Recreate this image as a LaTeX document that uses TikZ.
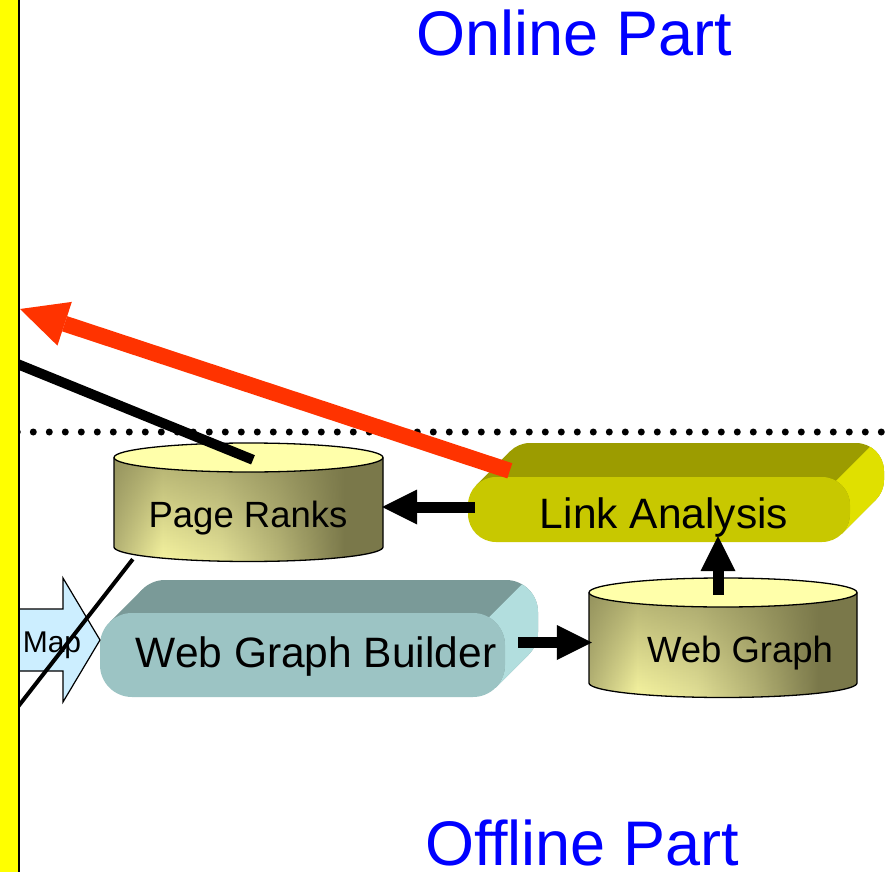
\documentclass[tikz,border=0pt]{standalone}
\usepackage{fontspec}
\setmainfont{Liberation Sans}
\usetikzlibrary{arrows.meta,calc,fadings}

\definecolor{barYellow}{HTML}{FFFF00}
\definecolor{partBlue}{HTML}{0000FF}
\definecolor{redArrow}{HTML}{FF3300}
\definecolor{mapBlue}{HTML}{CCEEFF}
\definecolor{laFront}{HTML}{C8C800}
\definecolor{laTop}{HTML}{9C9C00}
\definecolor{laSide}{HTML}{E0E000}
\definecolor{wgbFront}{HTML}{9CC4C4}
\definecolor{wgbTop}{HTML}{7A9A98}
\definecolor{wgbSide}{HTML}{B2DEDE}
\definecolor{cylTop}{HTML}{FFFFAA}
\definecolor{cylLight}{HTML}{F6F4A0}
\definecolor{cylSoft}{HTML}{E2E096}
\definecolor{cylMid}{HTML}{B6B476}
\definecolor{cylDark}{HTML}{7A784A}

% side of a database cylinder: light towards lower left, dark to the right
\pgfdeclarehorizontalshading{cylsideshade}{100bp}{%
  color(0bp)=(cylMid); color(25bp)=(cylMid); color(34bp)=(cylLight);
  color(45bp)=(cylSoft); color(56bp)=(cylMid); color(68bp)=(cylDark);
  color(75bp)=(cylDark); color(100bp)=(cylDark)}
\tikzfading[name=cyltop, top color=transparent!45, middle color=transparent!100,
  bottom color=transparent!100]

\tikzset{
  frame/.style={rectangle, inner sep=0pt, draw=none},
  lbl/.style={inner sep=0pt, anchor=base, text=black},
  big/.style={font=\fontsize{42.5}{50}\selectfont},
  small/.style={font=\fontsize{36.5}{44}\selectfont},
  part/.style={inner sep=0pt, anchor=base, text=partBlue, font=\fontsize{63}{70}\selectfont},
  cyledge/.style={draw=black, line width=1.3pt},
  blkarrow/.style={draw=black, line width=11pt,
    -{Triangle[length=35pt, width=35pt, line width=0pt]}},
  redarrow/.style={draw=redArrow, line width=16pt,
    -{Triangle[length=47pt, width=46pt, line width=0pt]}},
}

% database cylinder: left x, right x, top centre y, bottom centre y, y radius
\newcommand{\dbcyl}[5]{%
  \pgfmathsetmacro\cylcx{(#1+#2)/2}%
  \pgfmathsetmacro\cylrx{(#2-#1)/2}%
  \shade[shading=cylsideshade] (#1,#3) -- (#1,#4)
    -- plot[domain=180:360, samples=40, variable=\t] ({\cylcx+\cylrx*cos(\t)},{#4-#5*sin(\t)})
    -- (#2,#3) -- cycle;
  \fill[cylDark, path fading=cyltop] (#1,#3) -- (#1,#4)
    -- plot[domain=180:360, samples=40, variable=\t] ({\cylcx+\cylrx*cos(\t)},{#4-#5*sin(\t)})
    -- (#2,#3) -- cycle;
  \draw[cyledge] (#1,#3) -- (#1,#4)
    -- plot[domain=180:360, samples=40, variable=\t] ({\cylcx+\cylrx*cos(\t)},{#4-#5*sin(\t)})
    -- (#2,#3);
  \filldraw[cyledge, fill=cylTop] (\cylcx,#3) ellipse [x radius=\cylrx pt, y radius=#5pt];
}

% extruded rounded box: x1 y1 x2 y2 radius depth front top side
\newcommand{\extbox}[9]{%
  \pgfmathsetmacro\ebk{0.29289*#5}%
  \fill[#8, rounded corners=#5pt] ({#1+#6},{#2-#6}) rectangle ({#3+#6},{#4-#6});
  \fill[#8] ({#1+\ebk},{#2+\ebk}) -- ({#1+\ebk+#6},{#2+\ebk-#6})
    -- ({#3-\ebk+#6},{#4-\ebk-#6}) -- ({#3-\ebk},{#4-\ebk}) -- cycle;
  \fill[#9] plot[domain=-45:0, variable=\t, samples=12] ({#3-#5+#5*cos(\t)},{#4-#5-#5*sin(\t)})
    -- plot[domain=0:60, variable=\t, samples=12] ({#3-#5+#5*cos(\t)},{#2+#5-#5*sin(\t)})
    -- plot[domain=60:0, variable=\t, samples=12] ({#3-#5+#6+#5*cos(\t)},{#2+#5-#6-#5*sin(\t)})
    -- plot[domain=0:-45, variable=\t, samples=12] ({#3-#5+#6+#5*cos(\t)},{#4-#5-#6-#5*sin(\t)})
    -- cycle;
  \fill[#7, rounded corners=#5pt] (#1,#2) rectangle (#3,#4);
}

\begin{document}
\begin{tikzpicture}[x=1pt, y=-1pt]
  \useasboundingbox (0,0) rectangle (892,872);
  \fill[white] (0,0) rectangle (892,872);

  % outlines of the components, used as anchors for the connectors
  \node[frame, minimum width=269pt, minimum height=118pt] (pr)  at (248.5,502) {};
  \node[frame, minimum width=268pt, minimum height=119pt] (wg)  at (723,637.5) {};
  \node[frame, minimum width=382pt, minimum height=65pt]  (la)  at (659,509.5) {};
  \node[frame, minimum width=405pt, minimum height=84pt]  (wgb) at (302.5,655) {};
  \coordinate (barRed)   at (20,309);
  \coordinate (barBlack) at (10,361);
  \coordinate (barThin)  at (10,717);

  % online / offline separator
  \foreach \k in {-1,...,53} \fill[black] ({33.3+16*\k},432) circle (3.5pt);

  % Page Ranks store
  \dbcyl{114}{383}{457.5}{547}{14.5}
  \node[lbl, small] (prtxt) at (248,527) {Page Ranks};

  % link from the page ranks to the online part
  \draw[black, line width=10pt] ($(pr.north)+(4.5,17)$) -- (barBlack);

  % Link Analysis
  \extbox{468}{477}{850}{542}{28}{34}{laFront}{laTop}{laSide}
  \node[lbl, big] (latxt) at (664,528) {Link Analysis};

  \draw[redarrow] ($(la.north west)+(42,-6)$) -- (barRed);

  % Web Graph Builder
  \extbox{100}{613}{505}{697}{32}{33}{wgbFront}{wgbTop}{wgbSide}
  \node[lbl, big] (wgbtxt) at (316,667) {Web Graph Builder};

  % Web Graph store
  \dbcyl{589}{857}{592.5}{683}{14.5}
  \node[lbl, small] (wgtxt) at (740,662) {Web Graph};

  % Map block arrow
  \filldraw[fill=mapBlue, draw=black, line width=1.2pt]
    (8,609) -- (63,609) -- (63,578) -- (100,640) -- (63,702) -- (63,671) -- (8,671) -- cycle;
  \node[lbl, font=\fontsize{30}{36}\selectfont] (maptxt) at (52,652) {Map};

  \draw[black, line width=4pt] ($(pr.south west)+(19,-2)$) -- (barThin);

  % data flow
  \draw[blkarrow] ($(la.west)+(7,-2.5)$) -- ($(pr.east |- la.west)+(-1,-2.5)$);
  \draw[blkarrow] ($(wgb.east |- wg.west)+(13,5)$) -- ($(wg.west)+(3,5)$);
  \draw[blkarrow] ($(wg.north)+(-5,17)$) -- ($(wg.north |- la.south)+(-5,-6)$);

  % part labels
  \node[part] (online)  at (574.5,56) {Online Part};
  \node[part] (offline) at (582,865) {Offline Part};

  % boundary bar on the left
  \fill[barYellow] (0,0) rectangle (17.5,872);
  \draw[black, line width=2pt] (18.5,0) -- (18.5,872);
\end{tikzpicture}
\end{document}
